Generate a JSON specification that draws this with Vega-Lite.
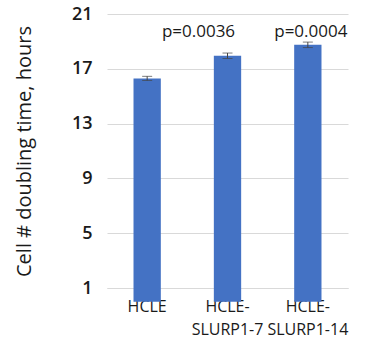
{
  "$schema": "https://vega.github.io/schema/vega-lite/v6.json",
  "autosize": {"type": "none"},
  "width": 241,
  "height": 274,
  "padding": {"left": 107, "top": 14, "right": 22, "bottom": 51},
  "background": "white",
  "config": {
    "font": "Open Sans",
    "view": {"stroke": null}
  },
  "data": {
    "values": [
      {"group": "HCLE", "mean": 16.3, "lo": 16.15, "hi": 16.45, "p": ""},
      {"group": "HCLE-SLURP1-7", "mean": 17.95, "lo": 17.75, "hi": 18.15, "p": "p=0.0036"},
      {"group": "HCLE-SLURP1-14", "mean": 18.75, "lo": 18.55, "hi": 18.95, "p": "p=0.0004"}
    ]
  },
  "encoding": {
    "x": {
      "field": "group",
      "type": "nominal",
      "sort": null,
      "scale": {"paddingInner": 0.66, "paddingOuter": 0.33},
      "axis": {
        "title": null,
        "labelAngle": 0,
        "labelFontSize": 16,
        "labelColor": "#1a1a1a",
        "labelLineHeight": 23,
        "labelBaseline": "top",
        "labelPadding": 10,
        "ticks": false,
        "domainColor": "#d9d9d9",
        "labelExpr": "datum.value == 'HCLE' ? 'HCLE' : ['HCLE-', replace(datum.value, 'HCLE-', '')]"
      }
    }
  },
  "layer": [
    {
      "mark": {"type": "bar", "color": "#4472C4"},
      "encoding": {
        "y": {
          "field": "mean",
          "type": "quantitative",
          "scale": {"domain": [1, 21], "nice": false, "zero": false},
          "axis": {
            "title": "Cell # doubling time, hours",
            "titleFontSize": 20,
            "titleFontWeight": "normal",
            "titleColor": "#1a1a1a",
            "titlePadding": 37,
            "values": [1, 3, 5, 7, 9, 11, 13, 15, 17, 19, 21],
            "labelExpr": "(datum.value - 1) % 4 == 0 ? datum.label : ''",
            "labelFontSize": 18,
            "labelFontWeight": 600,
            "labelColor": "#1a1a1a",
            "labelPadding": 15,
            "ticks": false,
            "domain": false,
            "gridColor": "#d9d9d9",
            "gridWidth": 1
          }
        }
      }
    },
    {
      "mark": {"type": "errorbar", "ticks": {"size": 10, "color": "#444"}, "rule": {"color": "#444"}},
      "encoding": {
        "y": {"field": "lo", "type": "quantitative", "title": "Cell # doubling time, hours"},
        "y2": {"field": "hi"}
      }
    },
    {
      "transform": [{"filter": "datum.group == 'HCLE-SLURP1-7'"}],
      "mark": {"type": "text", "fontSize": 17, "dx": -29, "baseline": "alphabetic", "color": "#1a1a1a"},
      "encoding": {
        "y": {"datum": 19.3},
        "text": {"field": "p"}
      }
    },
    {
      "transform": [{"filter": "datum.group == 'HCLE-SLURP1-14'"}],
      "mark": {"type": "text", "fontSize": 17, "dx": 3, "baseline": "alphabetic", "color": "#1a1a1a"},
      "encoding": {
        "y": {"datum": 19.3},
        "text": {"field": "p"}
      }
    }
  ]
}
